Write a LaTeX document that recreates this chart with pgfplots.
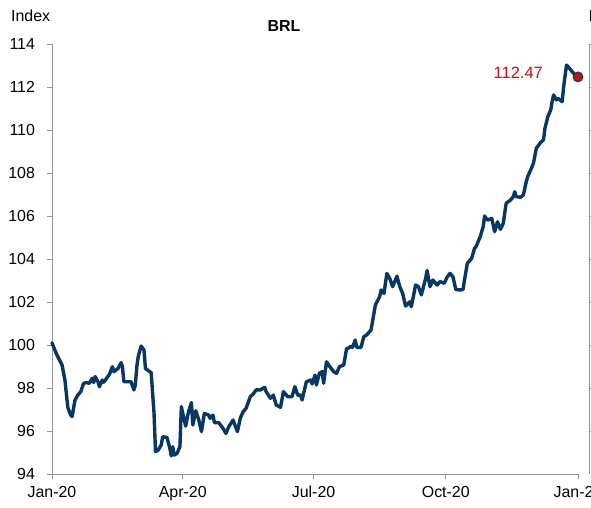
\documentclass[border=0pt]{standalone}
\usepackage{pgfplots}
\pgfplotsset{compat=1.18}
\usepackage{pgfplotstable}
\usepackage{fontspec}
\setmainfont{Liberation Sans}
\definecolor{navy}{RGB}{8,55,100}
\definecolor{axgray}{RGB}{150,150,150}
\definecolor{lblred}{RGB}{200,16,16}
\pgfplotstableread{
d v
0 100.1
3 99.6
6 99.2
7 99.07
9 98.37
11 97.1
13 96.74
14 96.67
16 97.44
18 97.67
20 97.83
22 98.22
24 98.25
26 98.22
28 98.45
29 98.25
30 98.53
32 98.29
33 98.06
35 98.37
36 98.27
38 98.45
40 98.64
42 98.99
43 98.76
46 98.91
48 99.18
49 98.99
50 98.29
53 98.29
55 98.29
57 97.91
58 98.14
59 98.99
60 99.46
62 99.95
64 99.77
65 98.91
68 98.76
69 98.71
71 96.82
72 95.04
74 95.12
76 95.35
77 95.73
80 95.70
82 95.19
83 94.84
84 95.27
85 94.88
87 94.96
89 95.27
90 97.13
91 96.82
93 96.23
95 96.90
97 97.32
98 96.28
100 96.94
102 96.55
104 95.97
106 96.82
109 96.74
110 96.59
112 96.74
113 96.39
116 96.39
119 96.12
121 95.89
123 96.20
126 96.51
129 95.97
131 96.59
133 96.90
135 97.05
138 97.60
140 97.72
142 97.91
145 97.91
148 98.03
149 97.83
152 97.52
154 97.67
156 97.21
159 97.10
161 97.83
164 97.60
167 97.60
169 98.06
171 97.67
173 97.67
174 97.44
177 98.29
180 98.37
181 98.19
183 98.60
184 98.14
186 98.68
188 98.76
189 98.22
191 99.22
193 99.02
196 98.76
198 98.68
200 98.99
203 99.07
205 99.84
206 99.84
208 99.95
209 99.89
211 100.23
212 99.89
215 99.89
217 100.39
219 100.47
222 100.70
224 101.47
225 101.86
228 102.25
229 102.56
231 102.40
233 103.33
235 103.10
237 102.71
240 103.20
242 102.71
244 102.40
246 101.81
249 102.01
250 101.78
253 102.79
255 102.71
257 102.33
260 103.10
261 103.46
263 102.71
265 103.02
268 102.79
270 102.95
273 102.87
275 103.17
277 103.33
279 103.17
281 102.58
284 102.56
286 102.58
287 103.02
289 103.80
292 104.03
294 104.50
295 104.57
298 105.04
300 105.50
301 106.00
303 105.81
306 105.89
308 105.27
310 105.73
312 105.38
314 105.66
316 106.59
319 106.74
321 106.90
322 107.13
323 106.90
326 106.87
328 106.98
330 107.60
331 107.83
334 108.29
335 108.45
337 109.15
340 109.42
342 109.54
343 110.08
345 110.62
347 110.93
348 111.32
349 111.63
351 111.40
352 111.47
355 111.32
356 112.01
358 113.02
360 112.87
362 112.71
364 112.56
366 112.47
}\brl
\begin{document}
\begin{tikzpicture}
\begin{axis}[
  at={(52bp,34bp)}, anchor=south west,
  scale only axis, width=526bp, height=430bp,
  xmin=0, xmax=366, ymin=94, ymax=114,
  axis x line*=bottom, axis y line*=left,
  axis line style={axgray, line width=0.9bp},
  tick style={axgray, line width=0.9bp},
  tick align=outside, major tick length=4.5bp,
  xtick={0,91,182,274,366},
  xticklabels={Jan-20,Apr-20,Jul-20,Oct-20,Jan-21},
  ytick={94,96,...,114},
  /pgf/number format/assume math mode=true,
  ticklabel style={font=\fontsize{16}{19}\selectfont, text=black},
  yticklabel style={xshift=-9bp},
  xticklabel style={yshift=-4bp},
  clip=false,
]
\addplot[navy, line width=3.4bp, line join=round, line cap=round] table[x=d,y=v] {\brl};
\addplot[only marks, mark=*, mark size=4.8bp, mark options={fill=lblred, draw=darkgray!80!black, line width=1.2bp}] coordinates {(366,112.47)};
\node[anchor=east, text=lblred, font=\fontsize{16.5}{19}\selectfont, inner sep=0] at (axis cs:366,112.47) [xshift=-35bp, yshift=4bp] {112.47};
\end{axis}
\node[anchor=base west, inner sep=0, font=\fontsize{16}{19}\selectfont] at (11bp,486bp) {Index};
\node[anchor=base, inner sep=0, font=\fontsize{16}{19}\selectfont\bfseries] at (284bp,476bp) {BRL};
\node[anchor=base west, inner sep=0, font=\fontsize{16}{19}\selectfont] at (588.5bp,486bp) {Index};
\draw[axgray, line width=0.9bp] (589bp,464bp) -- (589bp,34bp);
\foreach \yy in {464,421,378,335,292,249,206,163,120,77}{\draw[axgray, line width=0.9bp] (589bp,\yy bp) -- (594bp,\yy bp);}
\pgfresetboundingbox
\useasboundingbox (0bp,0bp) rectangle (591bp,508bp);
\end{tikzpicture}
\end{document}
